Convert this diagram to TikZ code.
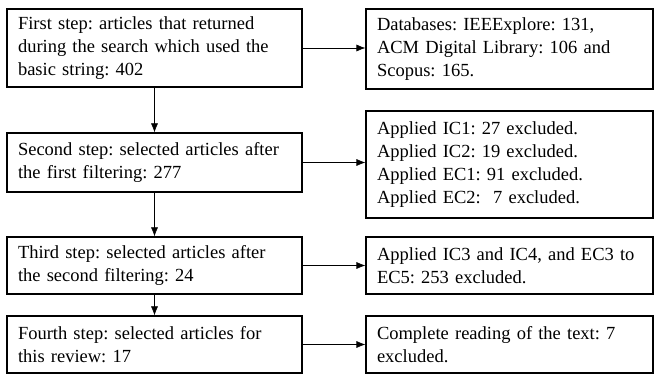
\documentclass[tikz,border=0pt]{standalone}
\usepackage{fontspec}
\setmainfont{Liberation Serif}
\usetikzlibrary{arrows.meta}

\begin{document}
\frenchspacing
\begin{tikzpicture}[x=1pt,y=1pt,
  stepbox/.style={draw,line width=1.1pt,rectangle,inner xsep=11pt,inner ysep=0pt,
    text width=273pt,align=left,font=\fontsize{18.5}{23}\selectfont},
  infobox/.style={stepbox,text width=265pt},
  arr/.style={line width=0.6pt,-{Latex[length=9pt,width=7pt]}}]
  \useasboundingbox (0,0) rectangle (654,-374);
  \node[stepbox,minimum height=78pt] (s1) at (154.5,-48) {First step: articles that returned\\during the search which used the\\basic string: 402};
  \node[stepbox,minimum height=59pt] (s2) at (154.5,-162.5) {Second step: selected articles after\\the first filtering: 277};
  \node[stepbox,minimum height=57pt] (s3) at (154.5,-265.5) {Third step: selected articles after\\the second filtering: 24};
  \node[stepbox,minimum height=57pt] (s4) at (154.5,-344.5) {Fourth step: selected articles for\\this review: 17};
  \node[infobox,minimum height=80pt] (e1) at (509.5,-49) {Databases: IEEExplore: 131,\\ACM Digital Library: 106 and\\Scopus: 165.};
  \node[infobox,minimum height=107pt] (e2) at (509.5,-164.5) {Applied IC1: 27 excluded.\\Applied IC2: 19 excluded.\\Applied EC1: 91 excluded.\\Applied EC2:\ \ 7 excluded.};
  \node[infobox,minimum height=57pt] (e3) at (509.5,-265.5) {Applied IC3 and IC4, and EC3 to\\EC5: 253 excluded.};
  \node[infobox,minimum height=57pt] (e4) at (509.5,-344.5) {Complete reading of the text: 7\\excluded.};
  \draw[arr] (s1) -- (s2); \draw[arr] (s2) -- (s3); \draw[arr] (s3) -- (s4);
  \draw[arr] (s1) -- (s1 -| e1.west); \draw[arr] (s2) -- (s2 -| e2.west);
  \draw[arr] (s3) -- (s3 -| e3.west); \draw[arr] (s4) -- (s4 -| e4.west);
\end{tikzpicture}
\end{document}
